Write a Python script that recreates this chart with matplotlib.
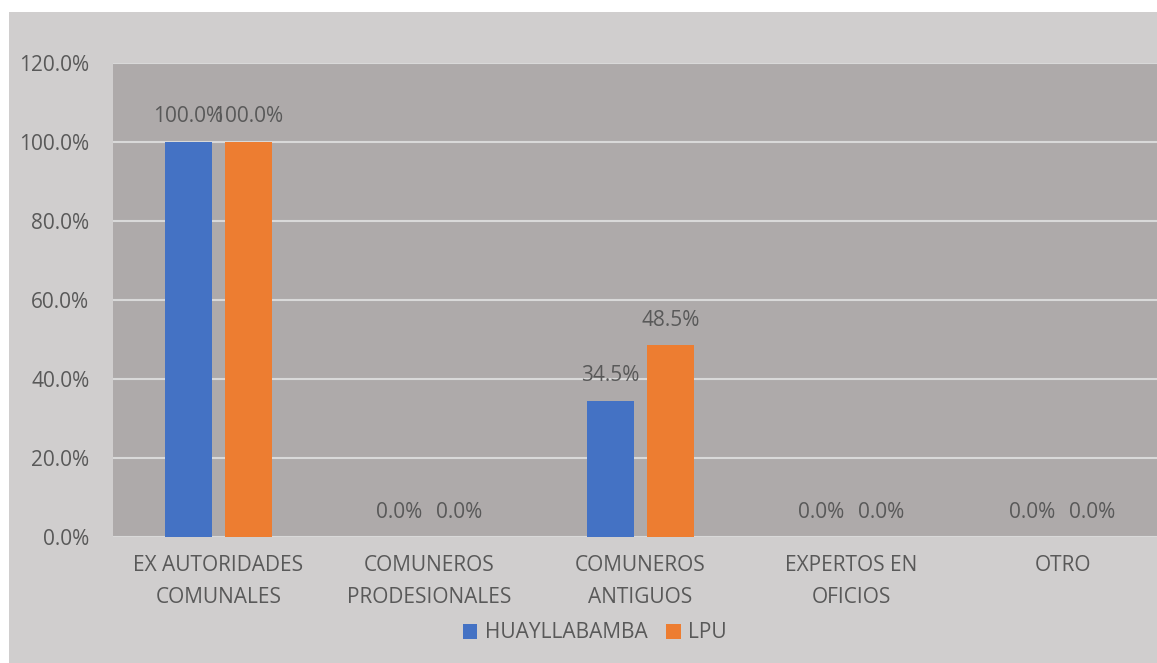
import numpy as np
import matplotlib
matplotlib.use("Agg")
import matplotlib.pyplot as plt
from matplotlib.patches import Rectangle, Patch

categories = ["EX AUTORIDADES\nCOMUNALES", "COMUNEROS\nPRODESIONALES",
              "COMUNEROS\nANTIGUOS", "EXPERTOS EN\nOFICIOS", "OTRO"]
huayllabamba = [100.0, 0.0, 34.5, 0.0, 0.0]
lpu = [100.0, 0.0, 48.5, 0.0, 0.0]
series_names = ["HUAYLLABAMBA", "LPU"]
yticks = [0, 20, 40, 60, 80, 100, 120]

W, H = 1157, 663
BLUE, ORANGE = "#4472C4", "#ED7D31"
TXT = "#595959"
FS = 15
plt.rcParams["font.family"] = ["Open Sans", "DejaVu Sans"]

fig = plt.figure(figsize=(W / 100, H / 100), dpi=100, facecolor="white")
# light gray chart background (white strip on top / left)
fig.add_artist(Rectangle((9 / W, 0), 1 - 9 / W, (H - 12) / H,
                         transform=fig.transFigure, facecolor="#D0CECE",
                         edgecolor="none", zorder=-10))

# plot area runs slightly past the right edge (cropped in the original)
ax = fig.add_axes([113 / W, (H - 537) / H, 1055 / W, 474 / H])
ax.set_facecolor("#AEAAAA")
x = np.arange(len(categories))
bw = 0.227
off = 0.142
b1 = ax.bar(x - off, huayllabamba, bw, color=BLUE, zorder=3)
b2 = ax.bar(x + off, lpu, bw, color=ORANGE, zorder=3)

for bars, vals in ((b1, huayllabamba), (b2, lpu)):
    for r, v in zip(bars, vals):
        ax.annotate(f"{v:.1f}%", (r.get_x() + r.get_width() / 2, v),
                    xytext=(0, 18), textcoords="offset points",
                    ha="center", va="center", fontsize=FS, color=TXT, zorder=4)

ax.set_xlim(-0.5, len(categories) - 0.5)
ax.set_ylim(0, 120)
ax.set_yticks(yticks)
ax.set_yticklabels([f"{t:.1f}%" for t in yticks])
ax.grid(axis="y", color="#D9D9D9", linewidth=1.5, zorder=1)
ax.set_axisbelow(True)
for s in ax.spines.values():
    s.set_visible(False)
ax.axhline(0, color="#D9D9D9", linewidth=2, zorder=2)
ax.set_xticks(x)
ax.set_xticklabels(categories, linespacing=1.7)
ax.tick_params(axis="both", length=0, labelsize=FS, labelcolor=TXT)
ax.tick_params(axis="y", pad=17)
ax.tick_params(axis="x", pad=13)

handles = [Patch(facecolor=BLUE), Patch(facecolor=ORANGE)]
fig.legend(handles, series_names, loc="center", bbox_to_anchor=(0.514, (H - 633) / H),
           ncol=2, frameon=False, fontsize=FS, labelcolor=TXT,
           handlelength=0.7, handleheight=0.7, handletextpad=0.35, columnspacing=0.9)

fig.savefig("out.png", dpi=100, facecolor=fig.get_facecolor())
